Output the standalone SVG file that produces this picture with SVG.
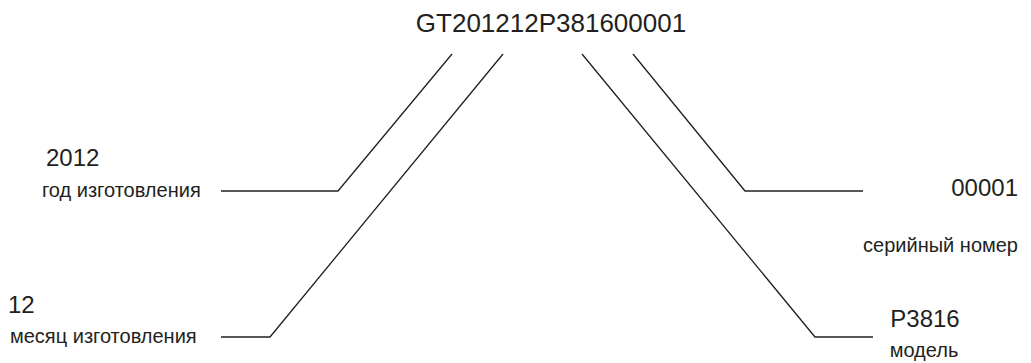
<svg xmlns="http://www.w3.org/2000/svg" width="1031" height="363" viewBox="0 0 1031 363">
<style>
text{font-family:"Liberation Sans",Arial,sans-serif;fill:#231f20}
.big{font-size:24px}
.title{font-size:26px}
.small{font-size:20px}
.conn{fill:none;stroke:#231f20;stroke-width:1.3}
</style>
<rect width="1031" height="363" fill="#fff"/>
<g id="serial">
<text class="title" x="551" y="32" text-anchor="middle">GT201212P381600001</text>
</g>
<g id="year">
<text class="big" x="46" y="166">2012</text>
<text class="small" x="42" y="197">год изготовления</text>
</g>
<g id="month">
<text class="big" x="8" y="313">12</text>
<text class="small" x="10" y="343">месяц изготовления</text>
</g>
<g id="number">
<text class="big" x="1018" y="196" text-anchor="end">00001</text>
<text class="small" x="1018" y="252" text-anchor="end">серийный номер</text>
</g>
<g id="model">
<text class="big" x="925" y="327" text-anchor="middle">P3816</text>
<text class="small" x="924" y="357" text-anchor="middle">модель</text>
</g>
<g id="connectors">
<polyline class="conn" points="452,54 338,191 221,191"/>
<polyline class="conn" points="503,54 270,337 221,337"/>
<polyline class="conn" points="633,54 745,191 863,191"/>
<polyline class="conn" points="582,54 815,337 873,337"/>
</g>
</svg>
